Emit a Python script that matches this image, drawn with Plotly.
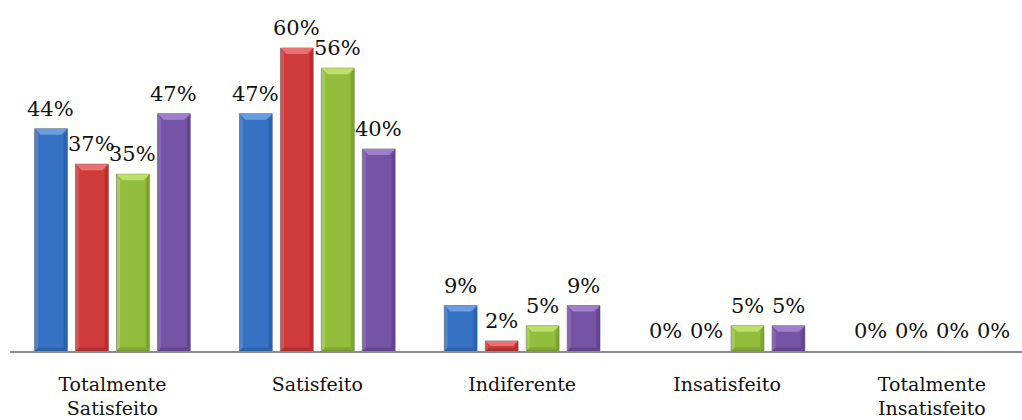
import plotly.graph_objects as go

# Satisfaction levels and the four groups compared
categories = ["Totalmente<br>Satisfeito", "Satisfeito", "Indiferente",
              "Insatisfeito", "Totalmente<br>Insatisfeito"]
series_a = [44, 47, 9, 0, 0]
series_b = [37, 60, 2, 0, 0]
series_c = [35, 56, 5, 5, 0]
series_d = [47, 40, 9, 5, 0]
series_values = [series_a, series_b, series_c, series_d]

# base, light (bevel highlight) and dark (bevel shadow) tones per series
base_colors = ["#3572c4", "#cf3a3a", "#93bd3c", "#7553a5"]
light_colors = ["#6b9be0", "#ea7171", "#bde06a", "#a07fcc"]
dark_colors = ["#23569c", "#a32626", "#6f9426", "#553a80"]

W, H = 1022, 420
M_L, M_R, M_T, M_B = 10, 0, 0, 69
Y_MAX = 69.5
X_RANGE = [-0.5, 4.44]
BARGAP, GROUPGAP = 0.2, 0.2
FONT = "DejaVu Serif"

fig = go.Figure()
for vals, col in zip(series_values, base_colors):
    fig.add_trace(go.Bar(
        x=list(range(len(categories))), y=vals,
        marker=dict(color=col, line=dict(color="rgba(90,90,90,0.6)",
                                         width=[1 if v > 0 else 0 for v in vals])),
        hoverinfo="skip",
    ))

# bar geometry in axis units (grouped bars, same gaps as the layout)
plot_w = W - M_L - M_R
plot_h = H - M_T - M_B
px_x = (X_RANGE[1] - X_RANGE[0]) / plot_w
px_y = Y_MAX / plot_h
n = len(series_values)
slot = (1 - BARGAP) / n
half = slot * (1 - GROUPGAP) / 2

shapes = []
annotations = []
for j, vals in enumerate(series_values):
    for i, v in enumerate(vals):
        cx = i + (j - (n - 1) / 2) * slot
        # percentage label above each bar
        annotations.append(dict(x=cx, y=v, xref="x", yref="y", text=f"{v}%",
                                showarrow=False, yanchor="bottom", yshift=6,
                                font=dict(family=FONT, size=21, color="#111111")))
        if v <= 0:
            continue
        x0, x1 = cx - half, cx + half
        d = min(6, (v / px_y) / 2)
        dx, dy = d * px_x, d * px_y
        top = v
        # top chevron highlight
        shapes.append(dict(type="path", xref="x", yref="y", layer="above",
                           path=f"M {x0},{top} L {x1},{top} L {x1-dx},{top-dy} L {x0+dx},{top-dy} Z",
                           fillcolor=light_colors[j], line=dict(width=0)))
        # left edge highlight
        shapes.append(dict(type="path", xref="x", yref="y", layer="above",
                           path=f"M {x0},{top} L {x0+dx*0.6},{top-dy} L {x0+dx*0.6},{dy*0.6} L {x0},0 Z",
                           fillcolor=light_colors[j], opacity=0.45, line=dict(width=0)))
        # right edge shadow
        shapes.append(dict(type="path", xref="x", yref="y", layer="above",
                           path=f"M {x1},{top} L {x1-dx*0.6},{top-dy} L {x1-dx*0.6},{dy*0.6} L {x1},0 Z",
                           fillcolor=dark_colors[j], opacity=0.55, line=dict(width=0)))
        # bottom shadow
        shapes.append(dict(type="path", xref="x", yref="y", layer="above",
                           path=f"M {x0},0 L {x1},0 L {x1-dx*0.6},{dy*0.6} L {x0+dx*0.6},{dy*0.6} Z",
                           fillcolor=dark_colors[j], opacity=0.55, line=dict(width=0)))

fig.update_layout(
    width=W, height=H,
    margin=dict(l=M_L, r=M_R, t=M_T, b=M_B, autoexpand=False),
    plot_bgcolor="white", paper_bgcolor="white",
    barmode="group", bargap=BARGAP, bargroupgap=GROUPGAP,
    showlegend=False,
    shapes=shapes,
    annotations=annotations,
    xaxis=dict(
        range=X_RANGE, tickmode="array",
        tickvals=list(range(len(categories))), ticktext=categories,
        showline=True, linecolor="#8c8c8c", linewidth=1.5,
        showgrid=False, zeroline=False, ticks="",
        automargin=False, ticklabelstandoff=15,
        tickfont=dict(family=FONT, size=19, color="#111111"),
    ),
    yaxis=dict(range=[0, Y_MAX], visible=False, showgrid=False, zeroline=False,
               automargin=False),
)

fig.write_html("out.html")
